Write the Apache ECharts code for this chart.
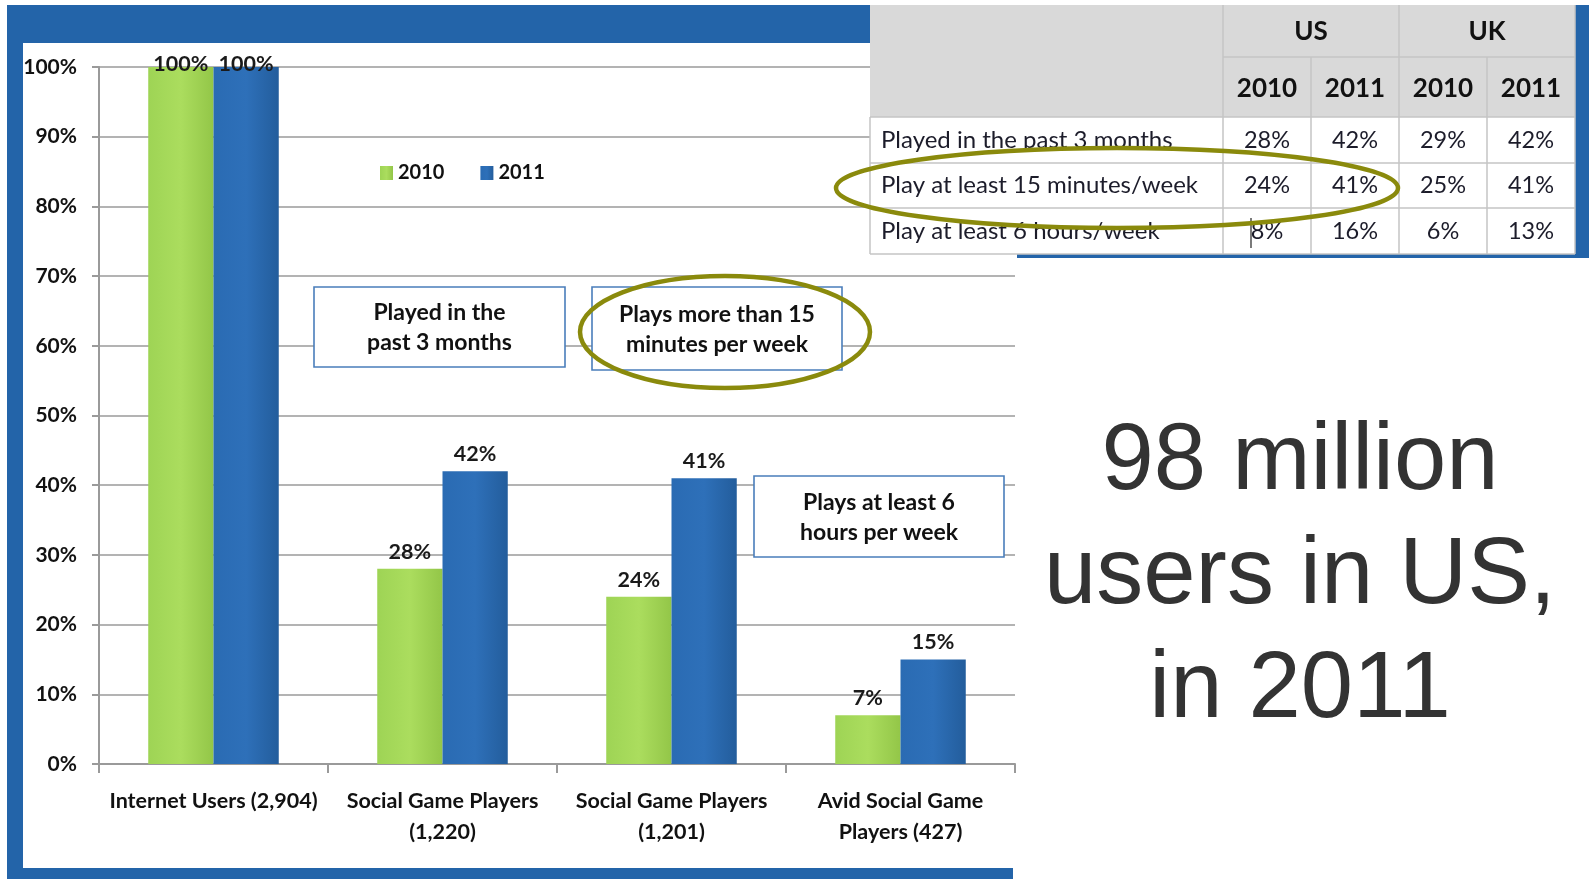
<!DOCTYPE html>
<html>
<head>
<meta charset="utf-8">
<title>Social game players</title>
<script src="https://cdn.jsdelivr.net/npm/echarts@6/dist/echarts.min.js"></script>
<style>
  html, body { margin: 0; padding: 0; background: #ffffff; }
  #chart { width: 1589px; height: 879px; }
</style>
</head>
<body>
<div id="chart"></div>
<script>
// ---- chart data ----
const categories = [
  'Internet Users (2,904)',
  'Social Game Players\n(1,220)',
  'Social Game Players\n(1,201)',
  'Avid Social Game\nPlayers (427)'
];
const seriesNames = ['2010', '2011'];
const share2010 = [100, 28, 24, 7];
const share2011 = [100, 42, 41, 15];

// ---- comparison table ----
const tableCountries = ['US', 'UK'];
const tableYears = ['2010', '2011'];
const tableRowLabels = [
  'Played in the past 3 months',
  'Play at least 15 minutes/week',
  'Play at least 6 hours/week'
];
const us2010 = [28, 24, 8];
const us2011 = [42, 41, 16];
const uk2010 = [29, 25, 6];
const uk2011 = [42, 41, 13];

// ---- callouts ----
const boxNotes = [
  'Played in the\npast 3 months',
  'Plays more than 15\nminutes per week',
  'Plays at least 6\nhours per week'
];
const headline = ['98 million', 'users in US,', 'in 2011'];

const FRAME_BLUE = '#2364a9';
const OLIVE = '#8a8a0c';
const BOX_BLUE = '#4a7ebb';
const CHART_FONT = 'Lato, "Open Sans", sans-serif';

const chart = echarts.init(document.getElementById('chart'), null, { renderer: 'canvas' });

const greenFill = new echarts.graphic.LinearGradient(0, 0, 1, 0, [
  { offset: 0, color: '#9ed455' },
  { offset: 0.5, color: '#abdd5e' },
  { offset: 1, color: '#93c648' }
]);
const blueFill = new echarts.graphic.LinearGradient(0, 0, 1, 0, [
  { offset: 0, color: '#2a6bb3' },
  { offset: 0.5, color: '#2e70b9' },
  { offset: 1, color: '#235d9c' }
]);

function barData(values) {
  // a full-height bar keeps its label tucked onto the top gridline
  return values.map(v => v >= 100 ? { value: v, label: { offset: [0, 14] } } : v);
}

// ---- table drawing (every piece carries its own z so it sits above the gridlines) ----
const TABLE_Z = 100;
const colX = [870, 1223, 1311, 1399, 1487, 1575];
const rowY = [5, 57, 117, 163, 208, 254];
const lineColor = '#c4c4c4';
const tableEls = [];
tableEls.push({ type: 'rect', z: TABLE_Z, shape: { x: colX[0], y: rowY[0], width: colX[5] - colX[0], height: rowY[5] - rowY[0] }, style: { fill: '#ffffff' } });
tableEls.push({ type: 'rect', z: TABLE_Z + 1, shape: { x: colX[0], y: rowY[0], width: colX[5] - colX[0], height: rowY[2] - rowY[0] }, style: { fill: '#d9d9d9' } });
function hLine(x1, x2, y) { tableEls.push({ type: 'line', z: TABLE_Z + 2, shape: { x1, y1: y, x2, y2: y }, style: { stroke: lineColor, lineWidth: 1.5 } }); }
function vLine(x, y1, y2) { tableEls.push({ type: 'line', z: TABLE_Z + 2, shape: { x1: x, y1, x2: x, y2 }, style: { stroke: lineColor, lineWidth: 1.5 } }); }
function tText(style) { tableEls.push({ type: 'text', z: TABLE_Z + 3, style }); }
hLine(colX[1], colX[5], rowY[1]);
for (let r = 2; r <= 5; r++) hLine(colX[0], colX[5], rowY[r]);
vLine(colX[0], rowY[2], rowY[5]);
vLine(colX[1], rowY[0], rowY[5]);
vLine(colX[3], rowY[0], rowY[5]);
vLine(colX[2], rowY[1], rowY[5]);
vLine(colX[4], rowY[1], rowY[5]);
vLine(colX[5], rowY[0], rowY[5]);
tableCountries.forEach((c, i) => {
  tText({ text: c, x: (colX[1 + 2 * i] + colX[3 + 2 * i]) / 2, y: (rowY[0] + rowY[1]) / 2 + 1, align: 'center', verticalAlign: 'middle', font: 'bold 26px ' + CHART_FONT, fill: '#111' });
});
for (let c = 0; c < 4; c++) {
  tText({ text: tableYears[c % 2], x: (colX[1 + c] + colX[2 + c]) / 2, y: (rowY[1] + rowY[2]) / 2 + 2, align: 'center', verticalAlign: 'middle', font: 'bold 26px ' + CHART_FONT, fill: '#111' });
}
const tableCols = [us2010, us2011, uk2010, uk2011];
tableRowLabels.forEach((label, r) => {
  const cy = (rowY[2 + r] + rowY[3 + r]) / 2;
  tText({ text: label, x: 881, y: cy, align: 'left', verticalAlign: 'middle', font: '24px ' + CHART_FONT, fill: '#1c1c2a' });
  tableCols.forEach((col, c) => {
    tText({ text: col[r] + '%', x: (colX[1 + c] + colX[2 + c]) / 2, y: cy, align: 'center', verticalAlign: 'middle', font: '23.5px ' + CHART_FONT, fill: '#1c1c2a' });
  });
});
// text cursor left in the 8% cell
tableEls.push({ type: 'line', z: TABLE_Z + 3, shape: { x1: 1251, y1: 218, x2: 1251, y2: 248 }, style: { stroke: '#222', lineWidth: 1.2 } });

// ---- callout boxes ----
const BOX_Z = 90;
const boxRects = [
  { x: 314, y: 287, w: 251, h: 80 },
  { x: 592, y: 287, w: 250, h: 83 },
  { x: 754, y: 476, w: 250, h: 81 }
];
const boxEls = [];
boxNotes.forEach((note, i) => {
  const b = boxRects[i];
  boxEls.push({ type: 'rect', z: BOX_Z, shape: { x: b.x, y: b.y, width: b.w, height: b.h }, style: { fill: '#ffffff', stroke: BOX_BLUE, lineWidth: 1.6 } });
  boxEls.push({ type: 'text', z: BOX_Z + 1, style: { text: note, x: b.x + b.w / 2, y: b.y + b.h / 2 + 1, align: 'center', verticalAlign: 'middle', font: 'bold 23px ' + CHART_FONT, lineHeight: 30, fill: '#111' } });
});

const option = {
  backgroundColor: '#ffffff',
  animation: false,
  graphic: {
    elements: [
      // slide frame behind the chart
      { type: 'rect', z: -10, shape: { x: 7, y: 5, width: 1006, height: 874 }, style: { fill: FRAME_BLUE } },
      { type: 'rect', z: -9, shape: { x: 23, y: 43, width: 990, height: 825 }, style: { fill: '#ffffff' } },
      { type: 'rect', z: -10, shape: { x: 1017, y: 5, width: 572, height: 253 }, style: { fill: FRAME_BLUE } },
      ...tableEls,
      ...boxEls,
      {
        type: 'text', z: 100,
        style: {
          text: headline.join('\n'), x: 1300, y: 406, align: 'center', verticalAlign: 'top',
          font: '94px "Liberation Sans", Arial, sans-serif', lineHeight: 114, fill: '#333333'
        }
      },
      { type: 'ellipse', z: 120, shape: { cx: 1117, cy: 188, rx: 281, ry: 40 }, style: { fill: null, stroke: OLIVE, lineWidth: 4.5 } },
      { type: 'ellipse', z: 120, shape: { cx: 725, cy: 332, rx: 145, ry: 56 }, style: { fill: null, stroke: OLIVE, lineWidth: 4.5 } }
    ]
  },
  legend: {
    data: seriesNames,
    left: 375,
    top: 158,
    itemWidth: 13,
    itemHeight: 14,
    itemGap: 36,
    icon: 'rect',
    textStyle: { fontFamily: CHART_FONT, fontWeight: 'bold', fontSize: 20, color: '#111' }
  },
  grid: { left: 99, right: 574, top: 67, bottom: 115, containLabel: false },
  xAxis: {
    type: 'category',
    data: categories,
    axisLine: { lineStyle: { color: '#9a9a9a', width: 2 } },
    axisTick: { show: true, length: 9, lineStyle: { color: '#9a9a9a', width: 2 } },
    axisLabel: { interval: 0, margin: 22, fontFamily: CHART_FONT, fontWeight: 'bold', fontSize: 21.5, lineHeight: 31, color: '#111' }
  },
  yAxis: {
    type: 'value',
    min: 0, max: 100, interval: 10,
    axisLine: { show: true, lineStyle: { color: '#9a9a9a', width: 2 } },
    axisTick: { show: true, length: 7, lineStyle: { color: '#9a9a9a', width: 2 } },
    splitLine: { lineStyle: { color: '#9a9a9a', width: 1.5 } },
    axisLabel: { formatter: '{value}%', margin: 22, fontFamily: CHART_FONT, fontWeight: 'bold', fontSize: 21, color: '#111' }
  },
  series: [
    {
      name: seriesNames[0], type: 'bar', data: barData(share2010),
      barGap: '0%', barCategoryGap: '43%',
      itemStyle: { color: greenFill },
      label: { show: true, position: 'top', distance: 6, formatter: '{c}%', fontFamily: CHART_FONT, fontWeight: 'bold', fontSize: 21.5, color: '#1a1a1a' }
    },
    {
      name: seriesNames[1], type: 'bar', data: barData(share2011),
      barGap: '0%', barCategoryGap: '43%',
      itemStyle: { color: blueFill },
      label: { show: true, position: 'top', distance: 6, formatter: '{c}%', fontFamily: CHART_FONT, fontWeight: 'bold', fontSize: 21.5, color: '#1a1a1a' }
    }
  ]
};

chart.setOption(option);
</script>
</body>
</html>
